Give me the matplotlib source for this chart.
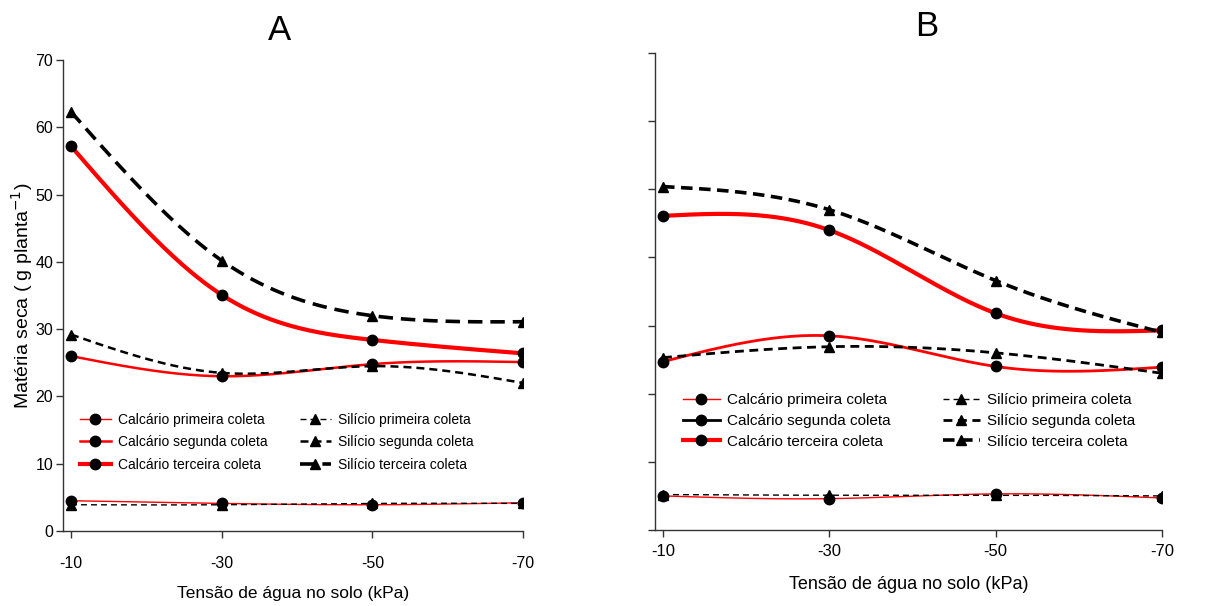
import numpy as np
import matplotlib
matplotlib.use("Agg")
import matplotlib.pyplot as plt
from matplotlib.lines import Line2D

plt.rcParams["font.family"] = ["Liberation Sans", "DejaVu Sans"]

tensao = [-10, -30, -50, -70]
xticks = [-10, -30, -50, -70]

# Panel A (g planta-1)
a_cal_1 = [4.5, 4.1, 3.9, 4.2]
a_cal_2 = [26.0, 23.0, 24.8, 25.1]
a_cal_3 = [57.2, 35.1, 28.4, 26.4]
a_sil_1 = [3.9, 3.9, 4.1, 4.1]
a_sil_2 = [29.2, 23.5, 24.5, 22.0]
a_sil_3 = [62.3, 40.2, 32.0, 31.1]

# Panel B
b_cal_1 = [5.0, 4.6, 5.3, 4.7]
b_cal_2 = [24.7, 28.5, 24.0, 23.9]
b_cal_3 = [46.1, 44.0, 31.8, 29.3]
b_sil_1 = [5.2, 5.1, 5.1, 5.0]
b_sil_2 = [25.3, 26.9, 26.0, 23.0]
b_sil_3 = [50.4, 47.0, 36.6, 29.0]

lab_cal = ["Calcário primeira coleta", "Calcário segunda coleta", "Calcário terceira coleta"]
lab_sil = ["Silício primeira coleta", "Silício segunda coleta", "Silício terceira coleta"]

RED = "#ff0000"


def spline(x, y, n=200):
    # natural cubic spline drawn through the measured points
    x = np.asarray(x, float); y = np.asarray(y, float)
    k = len(x); h = np.diff(x)
    A = np.zeros((k, k)); r = np.zeros(k)
    A[0, 0] = A[-1, -1] = 1
    for i in range(1, k - 1):
        A[i, i - 1] = h[i - 1]; A[i, i] = 2 * (h[i - 1] + h[i]); A[i, i + 1] = h[i]
        r[i] = 6 * ((y[i + 1] - y[i]) / h[i] - (y[i] - y[i - 1]) / h[i - 1])
    M = np.linalg.solve(A, r)
    xs = np.linspace(x[0], x[-1], n); ys = np.empty(n)
    for j, xv in enumerate(xs):
        i = min(max(np.searchsorted(-x, -xv, side="right") - 1, 0), k - 2)
        t1 = x[i + 1] - xv; t0 = xv - x[i]
        ys[j] = (M[i] * t1**3 + M[i + 1] * t0**3) / (6 * h[i]) \
            + (y[i] / h[i] - M[i] * h[i] / 6) * t1 + (y[i + 1] / h[i] - M[i + 1] * h[i] / 6) * t0
    return xs, ys


def curve(ax, y, color, lw, ls, mk):
    xs, ys = spline(tensao, y)
    ax.plot(xs, ys, color=color, lw=lw, ls=ls, zorder=3)
    ax.plot(tensao, y, mk, color="black", ms=7.5, zorder=5)


fig = plt.figure(figsize=(12.06, 6.06), dpi=100)
W, H = 1206, 606
axA = fig.add_axes([63 / W, 1 - 531 / H, (523 - 63) / W, (531 - 60) / H])
axB = fig.add_axes([655 / W, 1 - 530 / H, (1162 - 655) / W, (530 - 53) / H])

# styles: (color, lw, linestyle)
sty_cal = [(RED, 1.0, "-"), (RED, 1.8, "-"), (RED, 3.0, "-")]
sty_sil = [("black", 1.0, (0, (4.3, 2.9))), ("black", 1.8, (0, (3.2, 2.0))),
           ("black", 2.6, (0, (4.0, 2.2)))]
sty_calB = [(RED, 1.0, "-"), (RED, 2.0, "-"), (RED, 3.0, "-")]
sty_silB = [("black", 1.0, (0, (4.3, 2.9))), ("black", 2.0, (0, (3.2, 2.0))),
            ("black", 2.6, (0, (3.2, 1.8)))]

for y, (c, lw, ls) in zip([a_cal_1, a_cal_2, a_cal_3], sty_cal):
    curve(axA, y, c, lw, ls, "o")
for y, (c, lw, ls) in zip([a_sil_1, a_sil_2, a_sil_3], sty_sil):
    curve(axA, y, c, lw, ls, "^")
for y, (c, lw, ls) in zip([b_cal_1, b_cal_2, b_cal_3], sty_calB):
    curve(axB, y, c, lw, ls, "o")
for y, (c, lw, ls) in zip([b_sil_1, b_sil_2, b_sil_3], sty_silB):
    curve(axB, y, c, lw, ls, "^")

for ax, left in ((axA, -8.94), (axB, -9.04)):
    ax.set_xlim(left, -70)
    ax.set_ylim(0, 70)
    ax.set_xticks(xticks)
    ax.set_xticklabels([str(v) for v in xticks])
    ax.set_yticks(range(0, 71, 10))
    for s in ("top", "right"):
        ax.spines[s].set_visible(False)
    for s in ("left", "bottom"):
        ax.spines[s].set_color("#333333")
        ax.spines[s].set_linewidth(1.0)
    ax.spines["bottom"].set_bounds(left, -70)
    ax.tick_params(direction="out", length=5, width=1, color="#333333")

axA.tick_params(axis="x", pad=13, labelsize=11.5)
axA.tick_params(axis="y", pad=2, labelsize=11.5)
axB.tick_params(axis="x", pad=5, labelsize=12)
axB.tick_params(axis="y", labelleft=False)

axA.set_ylabel("Matéria seca ( g planta$^{-1}$)", fontsize=14, labelpad=0)
axA.set_xlabel("Tensão de água no solo (kPa)", fontsize=12.5, labelpad=11)
axB.set_xlabel("Tensão de água no solo (kPa)", fontsize=13, labelpad=12)
fig.text(280 / W, 1 - 30 / H, "A", fontsize=25, ha="center", va="center")
fig.text(927 / W, 1 - 27 / H, "B", fontsize=25, ha="center", va="center")


def handles(styles, mk):
    return [Line2D([], [], color=c, lw=lw, ls=ls, marker=mk, mfc="black", mec="black", ms=7.5)
            for c, lw, ls in styles]


def legends(ax, hc, hs, x1, x2, ytop, fs, hl, sp):
    kw = dict(loc="upper left", frameon=False, fontsize=fs, handlelength=hl,
              handletextpad=0.5, labelspacing=sp, borderpad=0, borderaxespad=0,
              bbox_transform=fig.transFigure)
    l1 = ax.legend(hc, lab_cal, bbox_to_anchor=(x1 / W, 1 - ytop / H), **kw)
    ax.add_artist(l1)
    ax.legend(hs, lab_sil, bbox_to_anchor=(x2 / W, 1 - ytop / H), **kw)


legends(axA, handles(sty_cal, "o"), handles(sty_sil, "^"), 80, 300, 413, 10, 2.2, 0.6)
legends(axB,
        handles([(RED, 1.0, "-"), ("black", 2.0, "-"), (RED, 3.0, "-")], "o"),
        handles(sty_silB, "^"), 683, 943, 393, 11, 2.4, 0.45)

fig.savefig("out.png", dpi=100)
